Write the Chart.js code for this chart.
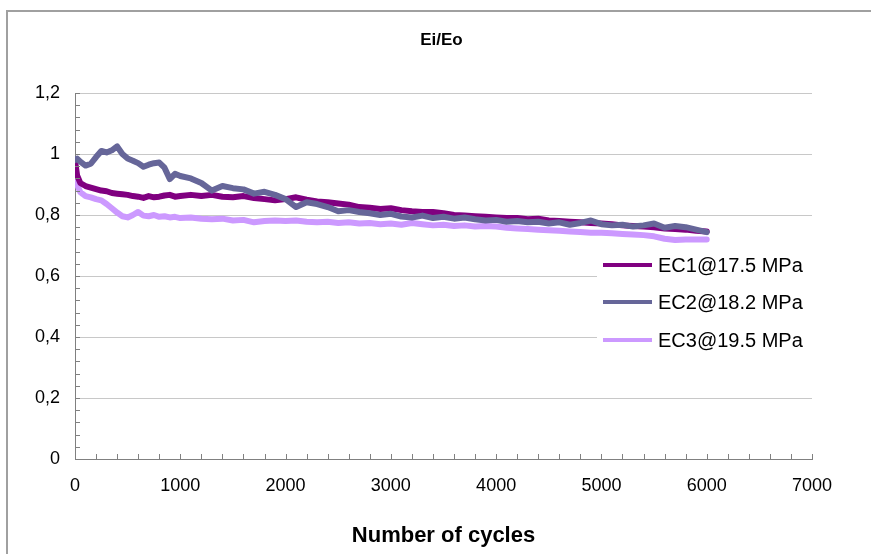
<!DOCTYPE html>
<html>
<head>
<meta charset="utf-8">
<script src="https://cdn.jsdelivr.net/npm/chart.js@4.4.0/dist/chart.umd.min.js"></script>
<style>
  body { margin: 0; background: #fff; }
  canvas { display: block; }
</style>
</head>
<body>
<canvas id="graph" width="871" height="554"></canvas>
<script>
const cycles = [0, 20, 50, 100, 150, 200, 250, 300, 350, 400, 450, 500, 550, 600, 650, 700, 750, 800, 850, 900, 950, 1000,
  1100, 1200, 1300, 1400, 1500, 1600, 1700, 1800, 1900, 2000, 2100, 2200, 2300, 2400, 2500, 2600, 2700, 2800, 2900, 3000,
  3100, 3200, 3300, 3400, 3500, 3600, 3700, 3800, 3900, 4000, 4100, 4200, 4300, 4400, 4500, 4600, 4700, 4800, 4900, 5000,
  5100, 5200, 5300, 5400, 5500, 5600, 5700, 5800, 5900, 6000];

const ec1 = [0.98, 0.93, 0.905, 0.895, 0.89, 0.885, 0.88, 0.878, 0.872, 0.87, 0.868, 0.866, 0.862, 0.86, 0.856, 0.862, 0.858, 0.86, 0.864, 0.866, 0.86, 0.862,
  0.866, 0.862, 0.866, 0.86, 0.858, 0.862, 0.856, 0.852, 0.848, 0.852, 0.858, 0.85, 0.844, 0.842, 0.838, 0.834, 0.826, 0.824, 0.82, 0.822,
  0.816, 0.812, 0.81, 0.81, 0.806, 0.8, 0.798, 0.796, 0.794, 0.792, 0.79, 0.79, 0.786, 0.788, 0.782, 0.78, 0.778, 0.776, 0.774, 0.772,
  0.77, 0.766, 0.764, 0.762, 0.76, 0.756, 0.754, 0.752, 0.748, 0.746];

const ec2 = [0.98, 0.985, 0.975, 0.962, 0.968, 0.99, 1.01, 1.005, 1.012, 1.025, 1.0, 0.985, 0.978, 0.97, 0.958, 0.965, 0.97, 0.972, 0.955, 0.918, 0.935, 0.928,
  0.92, 0.905, 0.88, 0.895, 0.888, 0.884, 0.87, 0.876, 0.866, 0.852, 0.826, 0.842, 0.836, 0.826, 0.812, 0.816, 0.81, 0.806, 0.8, 0.804,
  0.795, 0.792, 0.798, 0.79, 0.794, 0.788, 0.792, 0.786, 0.782, 0.784, 0.778, 0.78, 0.776, 0.778, 0.772, 0.776, 0.768, 0.774, 0.782, 0.77,
  0.766, 0.768, 0.762, 0.766, 0.772, 0.758, 0.764, 0.76, 0.752, 0.744];

const ec3 = [0.925, 0.9, 0.875, 0.862, 0.858, 0.852, 0.848, 0.836, 0.822, 0.808, 0.796, 0.792, 0.8, 0.81, 0.798, 0.796, 0.8, 0.794, 0.796, 0.792, 0.794, 0.79,
  0.792, 0.788, 0.786, 0.788, 0.782, 0.784, 0.776, 0.78, 0.782, 0.78, 0.782, 0.778, 0.776, 0.778, 0.774, 0.776, 0.772, 0.774, 0.77, 0.772,
  0.768, 0.774, 0.77, 0.766, 0.768, 0.764, 0.766, 0.762, 0.764, 0.762, 0.758, 0.756, 0.754, 0.752, 0.75, 0.748, 0.746, 0.744, 0.742, 0.742,
  0.74, 0.738, 0.736, 0.734, 0.73, 0.722, 0.718, 0.72, 0.72, 0.72];

const seriesLabels = ["EC1@17.5 MPa", "EC2@18.2 MPa", "EC3@19.5 MPa"];
const seriesColors = ["#800080", "#666699", "#cc99ff"];
const chartTitle = "Ei/Eo";

Chart.defaults.font.family = "'Liberation Sans', Arial, sans-serif";
Chart.defaults.color = "#000";

function points(values) {
  return cycles.map((c, i) => ({ x: c, y: values[i] }));
}

// white page, the frame that runs off the right and bottom, and the title over the plot
const framePlugin = {
  id: "frame",
  beforeDraw(chart) {
    const ctx = chart.ctx;
    ctx.save();
    ctx.fillStyle = "#fff";
    ctx.fillRect(0, 0, chart.width, chart.height);
    ctx.strokeStyle = "#a0a0a0";
    ctx.lineWidth = 2;
    ctx.beginPath();
    ctx.moveTo(7, chart.height + 5);
    ctx.lineTo(7, 11);
    ctx.lineTo(chart.width + 5, 11);
    ctx.stroke();
    const a = chart.chartArea;
    ctx.fillStyle = "#000";
    ctx.font = "bold 17px 'Liberation Sans', Arial, sans-serif";
    ctx.textAlign = "center";
    ctx.textBaseline = "middle";
    ctx.fillText(chartTitle, (a.left + a.right) / 2 - 2, 40);
    ctx.restore();
  },
};

// small tick marks pointing into the plot
const innerTicks = {
  id: "innerTicks",
  afterDatasetsDraw(chart) {
    const ctx = chart.ctx;
    const x = chart.scales.x;
    const y = chart.scales.y;
    ctx.save();
    ctx.strokeStyle = "#808080";
    ctx.lineWidth = 1;
    ctx.beginPath();
    for (let v = 0; v <= 7000; v += 200) {
      const px = Math.round(x.getPixelForValue(v)) + 0.5;
      ctx.moveTo(px, y.bottom);
      ctx.lineTo(px, y.bottom - 5);
    }
    for (let k = 0; k <= 30; k++) {
      const py = Math.round(y.getPixelForValue(k * 0.04)) + 0.5;
      ctx.moveTo(x.left, py);
      ctx.lineTo(x.left + 5, py);
    }
    ctx.stroke();
    ctx.restore();
  },
};

// legend box sitting over the right part of the plot
const boxLegend = {
  id: "boxLegend",
  afterDraw(chart) {
    const ctx = chart.ctx;
    ctx.save();
    ctx.fillStyle = "#fff";
    ctx.fillRect(597, 250, 230, 108);
    const rows = [265, 302, 340];
    seriesLabels.forEach((label, i) => {
      ctx.strokeStyle = seriesColors[i];
      ctx.lineWidth = 4;
      ctx.beginPath();
      ctx.moveTo(603, rows[i]);
      ctx.lineTo(652, rows[i]);
      ctx.stroke();
      ctx.fillStyle = "#000";
      ctx.font = "20px 'Liberation Sans', Arial, sans-serif";
      ctx.textBaseline = "middle";
      ctx.fillText(label, 658, rows[i] + 1);
    });
    ctx.restore();
  },
};

const ctx = document.getElementById("graph").getContext("2d");
new Chart(ctx, {
  type: "line",
  data: {
    datasets: [
      { label: seriesLabels[0], data: points(ec1), borderColor: seriesColors[0], order: 1 },
      { label: seriesLabels[1], data: points(ec2), borderColor: seriesColors[1], order: 0 },
      { label: seriesLabels[2], data: points(ec3), borderColor: seriesColors[2], order: 2 },
    ],
  },
  options: {
    responsive: false,
    animation: false,
    layout: { padding: { left: 0, right: 59, top: 93, bottom: 0 } },
    elements: {
      point: { radius: 0 },
      line: { borderWidth: 6, tension: 0, borderJoinStyle: "round", borderCapStyle: "round", fill: false },
    },
    plugins: {
      legend: { display: false },
      tooltip: { enabled: false },
      title: { display: false },
    },
    scales: {
      x: {
        type: "linear",
        min: 0,
        max: 7000,
        ticks: { stepSize: 1000, font: { size: 18 }, padding: 16, maxRotation: 0, callback: (v) => String(v) },
        grid: { display: false, drawTicks: false },
        border: { display: true, color: "#808080", width: 1 },
        title: {
          display: true,
          text: "Number of cycles",
          font: { size: 22, weight: "bold" },
          padding: { top: 0, bottom: 5 },
        },
        afterFit(scale) { scale.height = 95; },
      },
      y: {
        min: 0,
        max: 1.2,
        ticks: {
          stepSize: 0.2,
          font: { size: 18 },
          padding: 15,
          callback: (v) => String(Number(v.toFixed(1))).replace(".", ","),
        },
        grid: { color: "#c8c8c8", lineWidth: 1, drawTicks: false },
        border: { display: true, color: "#808080", width: 1 },
        afterFit(scale) { scale.width = 75; },
      },
    },
  },
  plugins: [framePlugin, innerTicks, boxLegend],
});
</script>
</body>
</html>
